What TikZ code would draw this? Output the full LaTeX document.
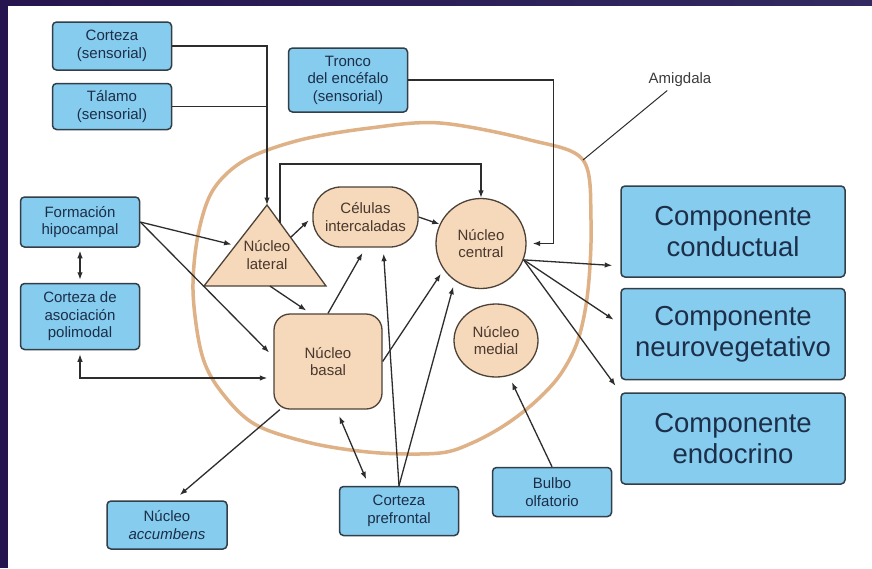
\documentclass[tikz,border=0pt]{standalone}
\usepackage{fontspec}
\setmainfont{Liberation Sans}
\usepackage{tikz}
\usetikzlibrary{shapes,arrows.meta,positioning,calc}

\definecolor{boxblue}{RGB}{134,204,238}
\definecolor{boxline}{RGB}{50,62,72}
\definecolor{boxtext}{RGB}{28,46,72}
\definecolor{peach}{RGB}{246,216,186}
\definecolor{peachline}{RGB}{78,66,56}
\definecolor{peachtext}{RGB}{72,56,46}
\definecolor{ring}{RGB}{222,178,134}
\definecolor{wire}{RGB}{45,45,45}
\definecolor{frameL}{RGB}{38,20,78}
\definecolor{frameR}{RGB}{50,42,96}

\begin{document}
\begin{tikzpicture}[x=1pt, y=-1pt,
    >={Latex[length=7.5pt,width=5.5pt]},
    input/.style={rectangle, draw=boxline, line width=1.5pt, fill=boxblue, rounded corners=4pt, text=boxtext, align=center, inner sep=0pt, minimum width=119pt, font=\fontsize{15}{17.5}\selectfont},
    output/.style={input, minimum width=224pt, minimum height=91pt, font=\fontsize{27.5}{31}\selectfont},
    nucleus/.style={draw=peachline, line width=1.3pt, fill=peach, text=peachtext, align=center, inner sep=0pt, font=\fontsize{15}{17.5}\selectfont},
    arrow/.style={->, draw=wire, line width=1.3pt},
    both/.style={<->, draw=wire, line width=1.3pt},
    line/.style={draw=wire, line width=1.3pt}
]
    \useasboundingbox (0,0) rectangle (872,568);
    % Frame
    \fill[frameL] (0,0) rectangle (872,568);
    \shade[left color=frameL, right color=frameR] (0,0) rectangle (872,6);
    \fill[white] (8,6) rectangle (872,568);

    % Amygdala outline
    \draw[ring, line width=3.5pt] plot[smooth cycle, tension=0.55] coordinates {
        (193,290) (200,347) (213,380) (240,413) (267,430) (320,445) (380,453)
        (440,453) (472,443) (505,425) (535,402) (560,375) (578,340) (588,290)
        (591,220) (583,160) (530,140) (440,123) (370,128) (300,140) (245,160)
        (213,190) (198,235)};
    \coordinate (ringtip) at (583,160);
    \node[text={rgb,255:red,60;green,60;blue,60}, font=\fontsize{15}{17.5}\selectfont] (amy) at (680,80) {Amigdala};
    \draw[line, line width=1pt] (amy) -- (ringtip);

    % Inputs
    \node[input, minimum height=48pt] (cs) at (112,46) {Corteza\\(sensorial)};
    \node[input, minimum height=46pt, below=12pt of cs] (tal) {Tálamo\\(sensorial)};
    \node[input, minimum height=64pt] (tro) at (348,80) {Tronco\\del encéfalo\\(sensorial)};
    \node[input, minimum height=50pt] (hip) at (80,222) {Formación\\hipocampal};
    \node[input, minimum height=66pt, below=35pt of hip] (aso) {Corteza de\\asociación\\polimodal};
    \node[input, minimum height=48pt, minimum width=120pt] (acc) at (167,525) {Núcleo\\\textit{accumbens}};
    \node[input, minimum height=49pt] (pre) at (399,511) {Corteza\\prefrontal};
    \node[input, minimum height=49pt] (bul) at (552,492) {Bulbo\\olfatorio};

    % Nuclei
    \coordinate (latA) at (267,205);
    \coordinate (latL) at (204,286);
    \coordinate (latR) at (326,286);
    \draw[nucleus] (latL) -- (latA) -- (latR) -- cycle;
    \node[text=peachtext, align=center, font=\fontsize{15}{17.5}\selectfont] (lat) at (267,255) {Núcleo\\lateral};
    \node[nucleus, rectangle, rounded corners=28pt, minimum width=105pt, minimum height=60pt] (cel) at (365.5,217) {Células\\intercaladas};
    \node[nucleus, circle, minimum size=90pt] (cen) at (481,243.5) {Núcleo\\central};
    \node[nucleus, ellipse, minimum width=84pt, minimum height=73pt] (med) at (496,340.5) {Núcleo\\medial};
    \node[nucleus, rectangle, rounded corners=16pt, minimum width=108pt, minimum height=95pt] (bas) at (328,361.5) {Núcleo\\basal};

    % Outputs
    \node[output] (con) at (733,231.5) {Componente\\conductual};
    \node[output, below=10pt of con] (neu) {Componente\\neurovegetativo};
    \node[output, below=12pt of neu] (end) {Componente\\endocrino};

    % Arrows
    \coordinate (latT) at ($(latA)!0.22!(latR)$);
    \coordinate (latM) at ($(latA)!0.4!(latR)$);
    \coordinate (latW) at ($(latA)!0.5!(latL)$);
    \coordinate (latB) at ($(latL)!0.54!(latR)$);
    \coordinate (cenout) at (cen.-21);
    \draw[arrow] (cs.east) -| (latA);
    \draw[line] (tal.east) -- (tal.east -| latA);
    \draw[arrow, shorten >=6pt] (tro.east) -| ($(cen.east)+(27,0)$) -- (cen.east);
    \draw[arrow] (latT) |- ($(cen.north)+(0,-34)$) -- (cen.north);
    \draw[arrow, shorten >=5pt] (latM) -- (cel.west);
    \draw[arrow] (cel.east) -- (cen.155);
    \draw[arrow, shorten >=4pt] (hip.east) -- (latW);
    \draw[arrow, shorten >=6pt] (hip.east) -- (bas.175);
    \draw[both, shorten <=3pt, shorten >=3pt] (hip.south) -- (aso.north);
    \draw[both, shorten <=4pt, shorten >=6pt] (aso.south) |- ($(bas.west)+(0,16.5)$);
    \draw[arrow, shorten >=5pt] (latB) -- (bas.110);
    \draw[arrow, shorten >=6pt] (bas.north) -- (cel.south);
    \draw[arrow, shorten >=5pt] (bas.east) -- (cen.215);
    \draw[arrow, shorten >=6pt] (pre.north) -- (cel.300);
    \draw[arrow, shorten >=6pt] (pre.north) -- (cen.235);
    \draw[both, shorten <=7pt, shorten >=7pt] (bas.-80) -- (pre.140);
    \draw[arrow, shorten >=8pt] (bas.225) -- (acc.75);
    \draw[arrow, shorten >=7pt] (bul.north) -- (med.290);
    \draw[arrow, shorten >=8pt] (cenout) -- (con.197);
    \draw[arrow, shorten >=8pt] (cenout) -- (neu.175);
    \draw[arrow, shorten >=8pt] (cenout) -- (end.north west);
\end{tikzpicture}
\end{document}
